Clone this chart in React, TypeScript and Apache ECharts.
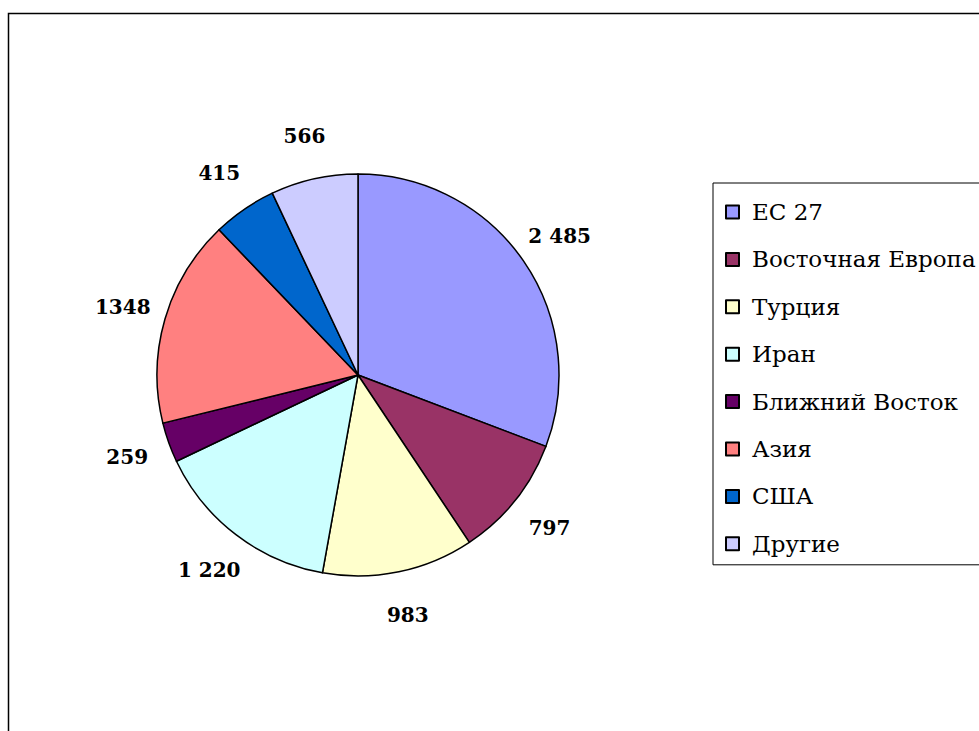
import React, { useEffect, useRef } from "react";
import * as echarts from "echarts";

const categories = ["ЕС 27", "Восточная Европа", "Турция", "Иран", "Ближний Восток", "Азия", "США", "Другие"];
const values = [2485, 797, 983, 1220, 259, 1348, 415, 566];
const valueLabels = ["2 485", "797", "983", "1 220", "259", "1348", "415", "566"];
const colors = ["#9999FF", "#993366", "#FFFFCC", "#CCFFFF", "#660066", "#FF8080", "#0066CC", "#CCCCFF"];

export default function App() {
  const ref = useRef<HTMLDivElement>(null);
  useEffect(() => {
    if (!ref.current) return;
    const chart = echarts.init(ref.current, null, { renderer: "svg" });
    const cx = 358;
    const cy = 375;
    chart.setOption({
      animation: false,
      backgroundColor: "#fff",
      textStyle: { fontFamily: "DejaVu Serif" },
      graphic: [
        {
          type: "rect",
          shape: { x: 8.5, y: 13.5, width: 1100, height: 900 },
          style: { fill: "none", stroke: "#000", lineWidth: 1.5 },
          z: -10,
        },
      ],
      legend: {
        orient: "vertical",
        left: 713,
        top: 183,
        data: categories,
        backgroundColor: "#fff",
        borderColor: "#000",
        borderWidth: 1,
        padding: [17.5, 60, 9.5, 12],
        itemWidth: 13,
        itemHeight: 13,
        itemGap: 24.4,
        icon: "rect",
        itemStyle: { borderColor: "#000", borderWidth: 2 },
        formatter: (name: string) => "{t|" + name + "}",
        textStyle: {
          fontFamily: "DejaVu Serif",
          fontSize: 23,
          color: "#000",
          rich: {
            t: {
              fontFamily: "DejaVu Serif",
              fontSize: 23,
              color: "#000",
              padding: [0, 0, 0, 8],
            },
          },
        },
        selectedMode: false,
      },
      series: [
        {
          type: "pie",
          center: [cx, cy],
          radius: 201,
          startAngle: 90,
          clockwise: true,
          label: { show: false },
          labelLine: { show: false },
          silent: true,
          itemStyle: { borderColor: "#000", borderWidth: 1.5 },
          data: categories.map((n, i) => ({ name: n, value: values[i], itemStyle: { color: colors[i] } })),
        },
        {
          type: "pie",
          center: [cx, cy],
          radius: [222, 262],
          startAngle: 90,
          clockwise: true,
          silent: true,
          avoidLabelOverlap: false,
          itemStyle: { color: "rgba(0,0,0,0)", borderWidth: 0 },
          label: {
            show: true,
            position: "inside",
            fontFamily: "DejaVu Serif",
            fontWeight: "bold",
            fontSize: 20,
            color: "#000",
            formatter: (p: any) => valueLabels[p.dataIndex],
          },
          labelLine: { show: false },
          data: categories.map((n, i) => ({ name: n, value: values[i] })),
        },
      ],
    });
    return () => chart.dispose();
  }, []);
  return <div ref={ref} style={{ position: "absolute", left: 0, top: 0, width: 979, height: 731 }} />;
}
